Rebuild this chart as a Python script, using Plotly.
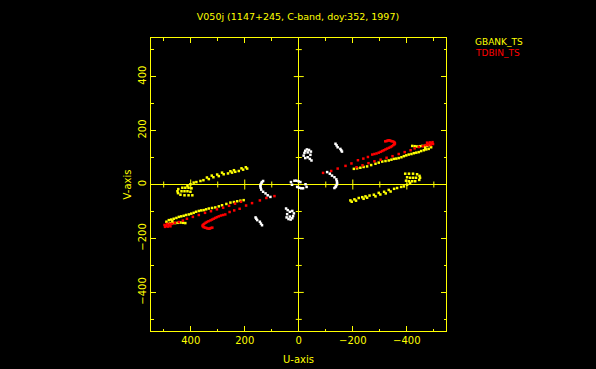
import plotly.graph_objects as go

# ---------------- data (u, v in kilo-wavelengths; one half of the uv-plane) -------------
title_text = "V050j (1147+245, C-band, doy:352, 1997)"
series_names = ["GBANK_TS", "TDBIN_TS", ""]
series_colors = ["#ffff00", "#ff0000", "#ffffff"]

major_ticks = [-400, -200, 0, 200, 400]
minor_ticks = [-500, -300, -100, 100, 300, 500]

# GBANK_TS (yellow)
gbank_u = [191, 206, 222, 235, 247, 262, 278, 296, 316, 333, 353, 364, 379, 389, 401, 412,
           196, 212, 240, 253, 284, 302, 322, 340,
           431, 420, 408, 397, 446, 449, 447, 434, 423, 412, 401, 438, 423, 408, 394,
           204, 216, 228, 240, 253, 268, 284, 296, 309, 321, 333, 343, 352, 361, 370, 380,
           389, 398, 407, 417, 426, 435, 444, 453, 463, 472, 481, 490,
           475, 466, 457, 448, 438, 429, 420, 468, 484]
gbank_v = [59, 55, 50, 47, 44, 41, 38, 31, 27, 20, 16, 13, 9, 7, 1, -6,
           64, 60, 53, 49, 44, 37, 33, 26,
           -12, -12, -12, -14, -17, -25, -32, -25, -25, -25, -27, -38, -40, -40, -40,
           -58, -60, -62, -65, -67, -72, -77, -81, -85, -87, -89, -92, -95, -96, -98, -101,
           -105, -108, -111, -113, -116, -118, -120, -124, -127, -130, -132, -138,
           -143, -143, -143, -142, -141, -142, -143, -136, -146]

# TDBIN_TS (red)
tdbin_u = [320, 325, 329, 333, 338, 342, 347, 352, 355, 356, 354, 350, 345, 340, 334, 327,
           321, 315, 309, 303, 296, 288, 280, 272, 256, 239, 219, 195,
           173, 144, 120, 90,
           491, 480, 469, 459, 444, 429, 414, 392, 370, 347, 325, 303, 280, 258, 236, 214,
           497, 495, 485, 475, 488, 478]
tdbin_v = [-160, -161, -163, -164, -163, -161, -160, -158, -155, -152, -149, -146, -142, -139, -136, -133,
           -130, -127, -124, -121, -118, -115, -113, -111, -102, -96, -90, -78,
           -69, -59, -50, -43,
           -153, -151, -146, -142, -139, -134, -127, -120, -113, -105, -99, -92, -86, -79, -71, -64,
           -150, -157, -156, -155, -146, -146]

# third baseline (white, not in the key)
other_u = [132, 136, 138, 141, 142, 141, 139, 132, 123, 115, 105,
           160, 157, 154, 144, 140, 136,
           47, 41, 33, 24, 18, 21, 24, 33, 43, 45, 38, 30,
           29, 25, 16, 9, 1, -6]
other_v = [13, 9, 6, 0, -6, -12, -19, -27, -33, -40, -46,
           -122, -127, -132, -138, -145, -151,
           -89, -95, -101, -98, -107, -117, -125, -119, -110, -122, -128, -130,
           9, -1, 14, 14, 12, 9]

series_u = [gbank_u, tdbin_u, other_u]
series_v = [gbank_v, tdbin_v, other_v]

# ---------------- figure ----------------
YEL = "#ffff00"
FONT = "DejaVu Sans"

fig = go.Figure()
for name, col, u, v in zip(series_names, series_colors, series_u, series_v):
    # include the Hermitian conjugate points (-u, -v)
    uu = list(u) + [-a for a in u]
    vv = list(v) + [-b for b in v]
    fig.add_trace(go.Scatter(
        x=uu, y=vv, mode="markers", name=name or "other",
        marker=dict(symbol="square", size=2.5, color=col, line=dict(width=0)),
        showlegend=False,
    ))

axis_common = dict(
    showline=True, linecolor=YEL, linewidth=1, mirror="ticks",
    ticks="inside", tickcolor=YEL, ticklen=5, tickwidth=1,
    tickvals=major_ticks, automargin=False,
    minor=dict(tickvals=minor_ticks, ticks="inside", ticklen=2.5, tickcolor=YEL, tickwidth=1),
    showgrid=False, zeroline=True, zerolinecolor=YEL, zerolinewidth=1,
    tickfont=dict(family=FONT, size=10, color=YEL),
)

fig.update_xaxes(range=[547, -545],
                 title=dict(text="U-axis", font=dict(family=FONT, size=10, color=YEL), standoff=10),
                 **axis_common)
fig.update_yaxes(range=[-543, 543], tickangle=-90,
                 title=dict(text="V-axis", font=dict(family=FONT, size=10, color=YEL), standoff=3),
                 **axis_common)

# ticks on the central zero axes
shapes = []
for t in major_ticks + minor_ticks:
    if t == 0:
        continue
    L = 5 if t in major_ticks else 3
    shapes.append(dict(type="line", xref="x", yref="y", ysizemode="pixel", yanchor=0,
                       x0=t, x1=t, y0=-L, y1=L, line=dict(color=YEL, width=1)))
    shapes.append(dict(type="line", xref="x", yref="y", xsizemode="pixel", xanchor=0,
                       y0=t, y1=t, x0=-L, x1=L, line=dict(color=YEL, width=1)))

annotations = []
for i, (name, col) in enumerate(zip(series_names[:2], series_colors[:2])):
    annotations.append(dict(text=name, xref="paper", yref="paper", x=1.09, y=0.985 - 0.036 * i,
                            xanchor="left", yanchor="middle", showarrow=False,
                            font=dict(family=FONT, size=9, color=col)))

fig.update_layout(
    width=596, height=369,
    paper_bgcolor="black", plot_bgcolor="black",
    margin=dict(l=151, r=150, t=38, b=38),
    title=dict(text=title_text, x=0.5, xanchor="center", y=1 - 16.5 / 369, yanchor="middle",
               yref="container", font=dict(family=FONT, size=9.5, color=YEL)),
    shapes=shapes, annotations=annotations, showlegend=False,
)

fig.write_html("out.html", config={"displayModeBar": False},
               post_script="document.body.style.margin='0';document.body.style.background='black';")
